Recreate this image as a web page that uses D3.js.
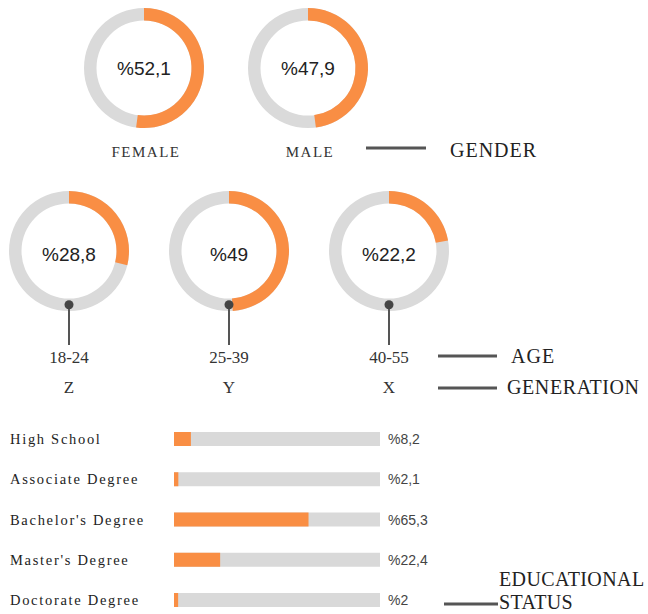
<!DOCTYPE html>
<html>
<head>
<meta charset="utf-8">
<script src="https://cdn.jsdelivr.net/npm/d3@7"></script>
<style>
  html, body { margin: 0; padding: 0; background: #fff; }
  svg { display: block; }
  .pct { font-family: "Liberation Sans", Arial, sans-serif; font-size: 19px; fill: #222; }
  .serif { font-family: "Liberation Serif", "Times New Roman", serif; fill: #333; }
  .barval { font-family: "Liberation Sans", Arial, sans-serif; font-size: 14px; fill: #444; }
</style>
</head>
<body>
<svg id="chart" width="648" height="614"></svg>
<script>
// chart data
var genderLabels = ["FEMALE", "MALE"];
var genderValues = [52.1, 47.9];

var ageGroups = ["18-24", "25-39", "40-55"];
var generations = ["Z", "Y", "X"];
var ageValues = [28.8, 49, 22.2];

var eduLevels = ["High School", "Associate Degree", "Bachelor's Degree", "Master's Degree", "Doctorate Degree"];
var eduValues = [8.2, 2.1, 65.3, 22.4, 2];

var orange = "#f98e44",
  ringGrey = "#dadada",
  lineCol = "#555";

var svg = d3.select("#chart");

function fmt(v) {
  return "%" + String(v).replace(".", ",");
}

var outerR = 60, ringW = 12.5;
var arc = d3.arc().innerRadius(outerR - ringW).outerRadius(outerR);
var pctScale = d3.scaleLinear().domain([0, 100]).range([0, 2 * Math.PI]);

//draws one donut: grey full ring + orange share starting at 12 o'clock
function donut(g, v) {
  g.append("path")
    .attr("d", arc({ startAngle: 0, endAngle: 2 * Math.PI }))
    .style("fill", ringGrey);
  g.append("path")
    .attr("d", arc({ startAngle: 0, endAngle: pctScale(v) }))
    .style("fill", orange);
}

// ---- gender row
var xGender = d3.scalePoint().domain(genderLabels).range([144, 308]);
var genderY = 68;

var gRow = svg.selectAll(".gender")
  .data(genderLabels)
  .enter()
  .append("g")
  .attr("class", "gender")
  .attr("transform", function(d) { return "translate(" + xGender(d) + "," + genderY + ")"; });

gRow.each(function(d, i) { donut(d3.select(this), genderValues[i]); });

gRow.append("text")
  .attr("class", "pct")
  .attr("text-anchor", "middle")
  .attr("dy", 7)
  .text(function(d, i) { return fmt(genderValues[i]); });

gRow.append("text")
  .attr("class", "serif")
  .attr("text-anchor", "middle")
  .attr("x", 2)
  .attr("y", 89)
  .style("font-size", "15px")
  .style("letter-spacing", "1.5px")
  .text(function(d) { return d; });

// ---- age row
var xAge = d3.scalePoint().domain(ageGroups).range([69, 389]);
var ageY = 251;

var aRow = svg.selectAll(".age")
  .data(ageGroups)
  .enter()
  .append("g")
  .attr("class", "age")
  .attr("transform", function(d) { return "translate(" + xAge(d) + "," + ageY + ")"; });

aRow.each(function(d, i) { donut(d3.select(this), ageValues[i]); });

aRow.append("text")
  .attr("class", "pct")
  .attr("text-anchor", "middle")
  .attr("dy", 10)
  .text(function(d, i) { return fmt(ageValues[i]); });

// pin: dot on the ring + stem down to the labels
var pinTop = outerR - ringW / 2;
aRow.append("line")
  .attr("x1", 0).attr("x2", 0)
  .attr("y1", pinTop).attr("y2", 94)
  .style("stroke", lineCol)
  .style("stroke-width", 2);
aRow.append("circle")
  .attr("cy", pinTop)
  .attr("r", 4.5)
  .style("fill", "#444");

aRow.append("text")
  .attr("class", "serif")
  .attr("text-anchor", "middle")
  .attr("y", 112)
  .style("font-size", "17px")
  .text(function(d) { return d; });

aRow.append("text")
  .attr("class", "serif")
  .attr("text-anchor", "middle")
  .attr("y", 142)
  .style("font-size", "17px")
  .text(function(d, i) { return generations[i]; });

// ---- education bars
var xBar = d3.scaleLinear().domain([0, 100]).range([174, 380]);
var yBar = d3.scalePoint().domain(eduLevels).range([439, 600]);
var barH = 14;

var bRow = svg.selectAll(".edu")
  .data(eduLevels)
  .enter()
  .append("g")
  .attr("class", "edu")
  .attr("transform", function(d) { return "translate(0," + yBar(d) + ")"; });

bRow.append("rect")
  .attr("x", xBar(0))
  .attr("y", -barH / 2)
  .attr("width", xBar(100) - xBar(0))
  .attr("height", barH)
  .style("fill", "#d9d9d9");

bRow.append("rect")
  .attr("x", xBar(0))
  .attr("y", -barH / 2)
  .attr("width", function(d, i) { return Math.max(xBar(eduValues[i]) - xBar(0), 4); })
  .attr("height", barH)
  .style("fill", orange);

bRow.append("text")
  .attr("class", "serif")
  .attr("x", 10)
  .attr("dy", 5)
  .style("font-size", "14.5px")
  .style("letter-spacing", "1.7px")
  .style("fill", "#222")
  .text(function(d) { return d; });

bRow.append("text")
  .attr("class", "barval")
  .attr("x", xBar(100) + 8)
  .attr("dy", 5)
  .text(function(d, i) { return fmt(eduValues[i]); });

// ---- section captions with their rule lines
var captions = [
  { x1: 366, x2: 426, ly: 148, tx: 450, lines: ["GENDER"], ty: 157, ls: 1 },
  { x1: 438, x2: 497, ly: 356, tx: 511, lines: ["AGE"], ty: 363, ls: 1 },
  { x1: 438, x2: 497, ly: 388, tx: 507, lines: ["GENERATION"], ty: 394, ls: 0.6 },
  { x1: 444, x2: 498, ly: 604, tx: 499, lines: ["EDUCATIONAL", "STATUS"], ty: 586, ls: 0.4 }
];

captions.forEach(function(c) {
  svg.append("line")
    .attr("x1", c.x1).attr("x2", c.x2)
    .attr("y1", c.ly).attr("y2", c.ly)
    .style("stroke", lineCol)
    .style("stroke-width", 3);
  var t = svg.append("text")
    .attr("class", "serif")
    .attr("x", c.tx)
    .attr("y", c.ty)
    .style("font-size", "20px")
    .style("letter-spacing", c.ls + "px")
    .style("fill", "#222");
  c.lines.forEach(function(l, i) {
    t.append("tspan").attr("x", c.tx).attr("dy", i ? 23 : 0).text(l);
  });
});
</script>
</body>
</html>
